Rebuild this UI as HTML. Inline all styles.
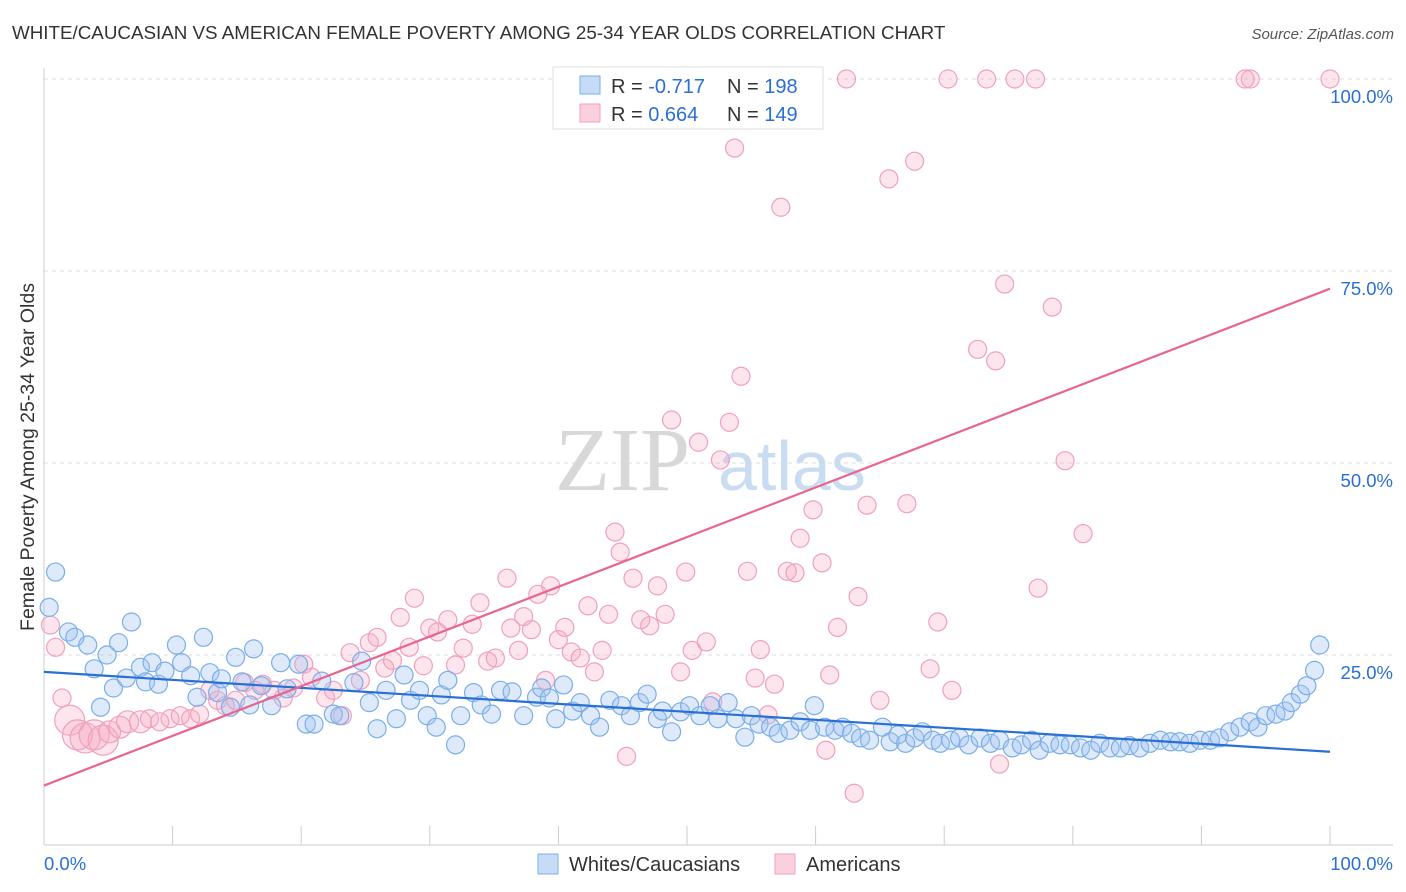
<!DOCTYPE html>
<html><head><meta charset="utf-8">
<style>
body{margin:0;background:#fff;font-family:"Liberation Sans",sans-serif;}
</style></head>
<body>
<svg id="chart" width="1406" height="892" xmlns="http://www.w3.org/2000/svg" style="display:block">
<text x="12" y="39" font-size="18.8" fill="#333" font-family="Liberation Sans, sans-serif">WHITE/CAUCASIAN VS AMERICAN FEMALE POVERTY AMONG 25-34 YEAR OLDS CORRELATION CHART</text>
<text x="1394" y="39" font-size="15" fill="#555" text-anchor="end" font-style="italic">Source: ZipAtlas.com</text>
<g id="grid"></g>
<g>
<text x="555" y="490" font-size="90" fill="#d8d8d8" font-family="Liberation Serif, serif">ZIP</text>
<text x="718" y="490" font-size="70" fill="#c9dcf2">atlas</text>
</g>
<g id="axes"></g>
<g id="pinkpts"></g>
<g id="bluepts"></g>
<g id="trends"></g>
<text transform="translate(34,457) rotate(-90)" font-size="19.5" fill="#333" text-anchor="middle">Female Poverty Among 25-34 Year Olds</text>
<g>
<rect x="553" y="67" width="270" height="62" fill="#fff" stroke="#ddd"/>
<rect x="580" y="76" width="20" height="18" fill="rgba(160,196,240,0.6)" stroke="#7aaee8"/>
<rect x="580" y="104" width="20" height="18" fill="rgba(245,170,195,0.55)" stroke="#f0a0bc"/>
<text x="611" y="93" font-size="20" fill="#333">R = <tspan fill="#2a6fd6">-0.717</tspan></text>
<text x="727" y="93" font-size="20" fill="#333">N = <tspan fill="#2a6fd6">198</tspan></text>
<text x="611" y="121" font-size="20" fill="#333">R = <tspan fill="#2a6fd6"> 0.664</tspan></text>
<text x="727" y="121" font-size="20" fill="#333">N = <tspan fill="#2a6fd6">149</tspan></text>
</g>
<g>
<rect x="538" y="854" width="20" height="20" fill="rgba(160,196,240,0.6)" stroke="#7aaee8"/>
<text x="569" y="871" font-size="20" fill="#333">Whites/Caucasians</text>
<rect x="775" y="854" width="20" height="20" fill="rgba(245,170,195,0.55)" stroke="#f0a0bc"/>
<text x="806" y="871" font-size="20" fill="#333">Americans</text>
</g>
</svg>
<script>
const yTicks=[25,50,75,100];
const yTickLabels=["25.0%","50.0%","75.0%","100.0%"];
const xEndLabels=["0.0%","100.0%"];
const blueX=[0.9,0.4,1.9,2.4,3.4,3.9,4.4,4.9,5.4,5.8,6.4,6.8,7.5,7.9,8.4,8.9,9.4,10.3,10.7,11.4,11.9,12.4,12.9,13.5,13.8,14.5,14.9,15.4,16,16.3,16.9,17.7,18.4,18.9,19.8,20.4,21,21.6,22.5,23,24.1,24.7,25.3,25.9,26.6,27.4,28,28.5,29.2,29.8,30.5,30.9,31.4,32,32.4,33.4,34,34.8,35.5,36.4,37.3,38.3,38.7,39.3,39.8,40.4,41.1,41.7,42.5,43.2,44,44.9,45.6,46.3,46.9,47.7,48.1,48.8,49.5,50.2,51,51.8,52.4,53.2,53.8,54.5,55,55.6,56.5,57.1,58,58.8,59.6,59.9,60.7,61.5,62.1,62.8,63.5,64.2,65.2,65.8,66.4,67,67.7,68.3,69.1,69.7,70.5,71.2,71.9,72.8,73.6,74.3,75.3,76,76.8,77.4,78.2,79,79.8,80.6,81.4,82.1,82.9,83.7,84.4,85.2,86,86.8,87.6,88.3,89.1,89.9,90.7,91.4,92.2,93,93.8,94.4,95,95.8,96.5,97,97.7,98.2,98.8,99.2];
const blueY=[35.8,31.2,28,27.3,26.3,23.2,18.2,25,20.7,26.6,22,29.3,23.4,21.5,24,21.2,22.9,26.3,24,22.3,19.5,27.3,22.7,20.1,21.9,18.2,24.7,21.5,18.5,25.8,21,18.4,24,20.6,23.8,16,16,21.6,17.3,17.1,21.4,24.2,18.8,15.4,20.4,16.7,22.4,19.1,20.4,17.1,15.6,19.8,21.7,13.3,17.1,20.1,18.5,17.3,20.4,20.2,17.1,19.5,20.7,19.4,16.7,21.1,17.7,18.8,17.1,15.6,19.1,18.4,17.1,18.8,19.9,16.7,17.7,15,17.6,18.4,17.1,18.4,16.7,18.8,16.7,14.3,17.1,16,15.6,14.8,15.2,16.3,15.2,18.4,15.6,15.2,15.6,14.8,14.2,13.9,15.6,13.7,14.6,13.5,14.2,15,13.9,13.5,13.9,14.2,13.3,14.2,13.5,13.9,12.9,13.3,13.9,12.6,13.5,13.3,13.3,12.9,12.6,13.5,12.9,12.9,13.2,12.9,13.5,13.9,13.7,13.7,13.5,13.9,13.9,14.2,15,15.6,16.3,15.6,17.1,17.3,17.7,18.8,19.9,21,23,26.3];
const pinkX=[0.5,0.9,1.4,2,2.6,3.2,3.9,4.6,5.1,5.9,6.5,7.5,8.2,9,9.8,10.6,11.4,12.1,12.9,13.5,14.1,14.9,15.6,16.4,17,17.9,18.6,19.4,20.2,20.8,21.9,22.5,23.2,23.8,24.6,25.3,25.9,26.5,27.1,27.7,28.4,28.8,29.5,30,30.6,31.4,32,32.6,33.3,33.9,34.5,35.1,36,36.3,36.9,37.3,37.9,38.4,39,39.4,40,40.5,41,41.7,42.3,42.8,43.4,43.9,44.4,44.8,45.3,45.8,46.4,47.1,47.7,48.3,48.8,49.5,49.9,50.4,50.9,51.5,52,52.6,53.3,53.7,54.2,54.7,55.3,55.7,56.3,56.8,57.3,57.8,58.4,58.8,59.8,60.5,60.8,61.1,61.7,62.4,63,63.3,64,65,65.7,67.1,67.7,68.9,69.5,70.3,70.6,72.6,73.3,74,74.3,74.7,75.5,77.1,77.3,78.4,79.4,80.8,93.4,93.8,100];
const pinkY=[28.9,26,19.4,16.5,14.6,14.2,14.6,13.9,15,15.6,16.3,16.3,16.7,16.3,16.7,17.1,16.7,17.3,20.4,19.1,18.4,19.1,21.4,20.4,21.2,20.4,19.4,20.7,23.8,22.1,19.4,20.4,17.1,25.3,21.7,26.6,27.3,23.3,24.3,29.9,26,32.4,23.6,28.5,28,29.6,23.7,25.9,29,31.8,24.2,24.6,35,28.5,25.6,30,28.3,32.9,21.7,34,27,28.6,25.4,24.6,31.4,22.8,25.6,30.3,41,38.4,11.8,35,29.6,28.8,34,30.3,55.6,22.8,35.8,25.6,52.7,26.7,18.9,50.4,55.3,91,61.3,35.9,22,25.7,17.2,21.2,83.3,35.9,35.7,40.2,43.9,37,12.6,22.4,28.6,100,7,32.6,44.5,19.1,87,44.7,89.3,23.2,29.3,100,20.4,64.8,100,63.3,10.8,73.3,100,100,33.7,70.3,50.3,40.8,100,100,100];
const blueTrend=[22.8,12.4];
const pinkTrend=[8,72.7];

const NS="http://www.w3.org/2000/svg";
const X0=44,X1=1330,Y0=847,Y100=79;
const sx=v=>X0+(X1-X0)*v/100;
const sy=v=>Y0-(Y0-Y100)*v/100;
function mk(tag,attrs,parent){const e=document.createElementNS(NS,tag);for(const k in attrs)e.setAttribute(k,attrs[k]);parent.appendChild(e);return e;}
const grid=document.getElementById('grid'),axes=document.getElementById('axes');
yTicks.forEach((t,i)=>{
  const l=mk('line',{x1:X0,x2:1393,y1:sy(t),y2:sy(t),stroke:'#ddd','stroke-dasharray':'4,4'},grid);
  
  
  const tx=mk('text',{x:1393,y:sy(t)+24,'font-size':18.5,fill:'#2a6fd6','text-anchor':'end'},axes);
  tx.textContent=yTickLabels[i];
  
  
});
const yl=mk('line',{x1:X0,x2:X0,y1:68,y2:845,stroke:'#ccc'},axes);


const xl=mk('line',{x1:X0,x2:1393,y1:845,y2:845,stroke:'#ccc'},axes);


for(let i=0;i<=10;i++){
  const tk=mk('line',{x1:sx(i*10),x2:sx(i*10),y1:826,y2:845,stroke:'#ccc'},axes);
  
  
}
[[0,'start',44],[1,'end',1393]].forEach(([i,a,x])=>{
  const t=mk('text',{x:x,y:870,'font-size':18.5,fill:'#2a6fd6','text-anchor':a},axes);
  t.textContent=xEndLabels[i];
  
  
});
const pg=document.getElementById('pinkpts');
pinkX.forEach((x,i)=>{
  const r=i<12&&i>2?(i<8?15:11):9;
  const c=mk('circle',{cx:sx(x),cy:sy(pinkY[i]),r:r,fill:'rgba(245,170,195,0.3)',stroke:'#f0a0bc','stroke-width':1.2},pg);
  
  
});
const bg=document.getElementById('bluepts');
blueX.forEach((x,i)=>{
  const c=mk('circle',{cx:sx(x),cy:sy(blueY[i]),r:9,fill:'rgba(160,196,240,0.35)',stroke:'#7aaee8','stroke-width':1.2},bg);
  
  
});
const tg=document.getElementById('trends');
const bt=mk('line',{x1:sx(0),y1:sy(blueTrend[0]),x2:sx(100),y2:sy(blueTrend[1]),stroke:'#2a6fd6','stroke-width':2.2},tg);


const pt=mk('line',{x1:sx(0),y1:sy(pinkTrend[0]),x2:sx(100),y2:sy(pinkTrend[1]),stroke:'#e8658f','stroke-width':2.2},tg);


</script>
</body></html>
